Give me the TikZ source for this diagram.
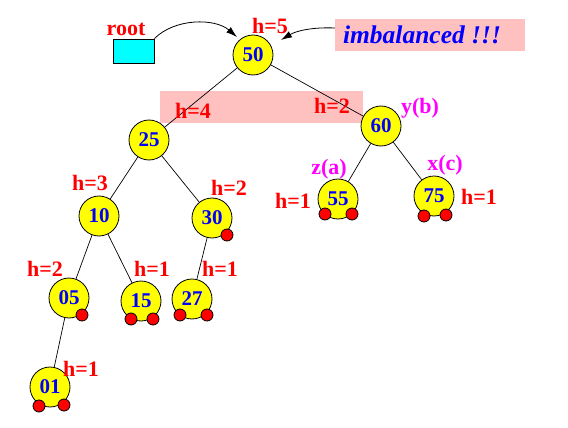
\documentclass[tikz,border=0pt]{standalone}
\usepackage{fontspec}
\setmainfont{Liberation Serif}
\usetikzlibrary{arrows.meta}
\definecolor{pinkbg}{RGB}{255,192,192}
\definecolor{nodeyellow}{RGB}{255,255,0}
\definecolor{numblue}{RGB}{0,0,255}
\definecolor{lblred}{RGB}{255,0,0}
\definecolor{lblmag}{RGB}{255,0,255}
\definecolor{rootcyan}{RGB}{0,255,255}
\tikzset{
  treenode/.style={circle,draw=black,line width=0.8pt,fill=nodeyellow,minimum size=40pt,inner sep=0pt,
    font=\fontsize{21}{22}\selectfont\bfseries,text=numblue},
  nilnode/.style={circle,draw=black,line width=0.8pt,fill=red,minimum size=12pt,inner sep=0pt},
  hlabel/.style={inner sep=0pt,font=\fontsize{22}{24}\selectfont\bfseries,text=lblred},
  mlabel/.style={inner sep=0pt,font=\fontsize{22}{24}\selectfont\bfseries,text=lblmag},
  edge/.style={draw=black,line width=0.7pt},
  pointer/.style={draw=black,line width=0.8pt,-{Latex[length=11pt,width=7pt]}}
}
\begin{document}
\begin{tikzpicture}[x=1pt,y=-1pt]
\useasboundingbox (0,0) rectangle (568,428);
% background boxes
\fill[pinkbg] (160,91) rectangle (363,123);
\fill[pinkbg] (335,19) rectangle (525,51);
\node[inner sep=0pt,font=\fontsize{25.5}{27}\selectfont\bfseries\itshape,text=numblue] (imb) at (422,35) {imbalanced !!!};
\node[draw=black,line width=0.8pt,fill=rootcyan,minimum width=41pt,minimum height=24pt,inner sep=0pt] (root) at (133.5,51) {};
\node[hlabel] (rootlbl) at (126,29) {root};
% tree nodes
\node[treenode] (n50) at (253,55) {50};
\node[treenode] (n25) at (149,140) {25};
\node[treenode] (n60) at (381,126) {60};
\node[treenode] (n10) at (99,216) {10};
\node[treenode] (n30) at (212,218) {30};
\node[treenode] (n55) at (338,199) {55};
\node[treenode] (n75) at (434,196) {75};
\node[treenode] (n05) at (69,298) {05};
\node[treenode] (n15) at (141,301) {15};
\node[treenode] (n27) at (192,299) {27};
\node[treenode] (n01) at (50,387) {01};
% edges
\draw[edge] (n50) -- (n25);
\draw[edge] (n50) -- (n60);
\draw[edge] (n25) -- (n10);
\draw[edge] (n25) -- (n30);
\draw[edge] (n10) -- (n05);
\draw[edge] (n10) -- (n15);
\draw[edge] (n30) -- (n27);
\draw[edge] (n05) -- (n01);
\draw[edge] (n60) -- (n55);
\draw[edge] (n60) -- (n75);
% nil dots
\node[nilnode] (d30) at (227,235) {};
\node[nilnode] (d55a) at (325,214) {};
\node[nilnode] (d55b) at (352,214) {};
\node[nilnode] (d75a) at (424,216) {};
\node[nilnode] (d75b) at (446,215) {};
\node[nilnode] (d05) at (82,315) {};
\node[nilnode] (d15a) at (131,319) {};
\node[nilnode] (d15b) at (153,319) {};
\node[nilnode] (d27a) at (180,315) {};
\node[nilnode] (d27b) at (207,315) {};
\node[nilnode] (d01a) at (39,406) {};
\node[nilnode] (d01b) at (64,405) {};
% height labels
\node[hlabel] (h50) at (270,26) {h=5};
\node[hlabel] (h25) at (193,111) {h=4};
\node[hlabel] (h60) at (332,106) {h=2};
\node[hlabel] (h10) at (90,183) {h=3};
\node[hlabel] (h30) at (229,188) {h=2};
\node[hlabel] (h55) at (293,201) {h=1};
\node[hlabel] (h75) at (479,197) {h=1};
\node[hlabel] (h05) at (45,269) {h=2};
\node[hlabel] (h15) at (152,269) {h=1};
\node[hlabel] (h27) at (220,269) {h=1};
\node[hlabel] (h01) at (81,369) {h=1};
% role labels
\node[mlabel] (yb) at (420,108) {y(b)};
\node[mlabel] (za) at (329,169) {z(a)};
\node[mlabel] (xc) at (445,165) {x(c)};
% pointers
\coordinate (t1) at (237,37);
\coordinate (s2) at (335,28);
\coordinate (t2) at (281,40);
\draw[pointer] (root.north east) .. controls (175,18) and (215,18) .. (t1);
\draw[pointer] (s2) .. controls (312,27) and (296,31) .. (t2);
\end{tikzpicture}
\end{document}
